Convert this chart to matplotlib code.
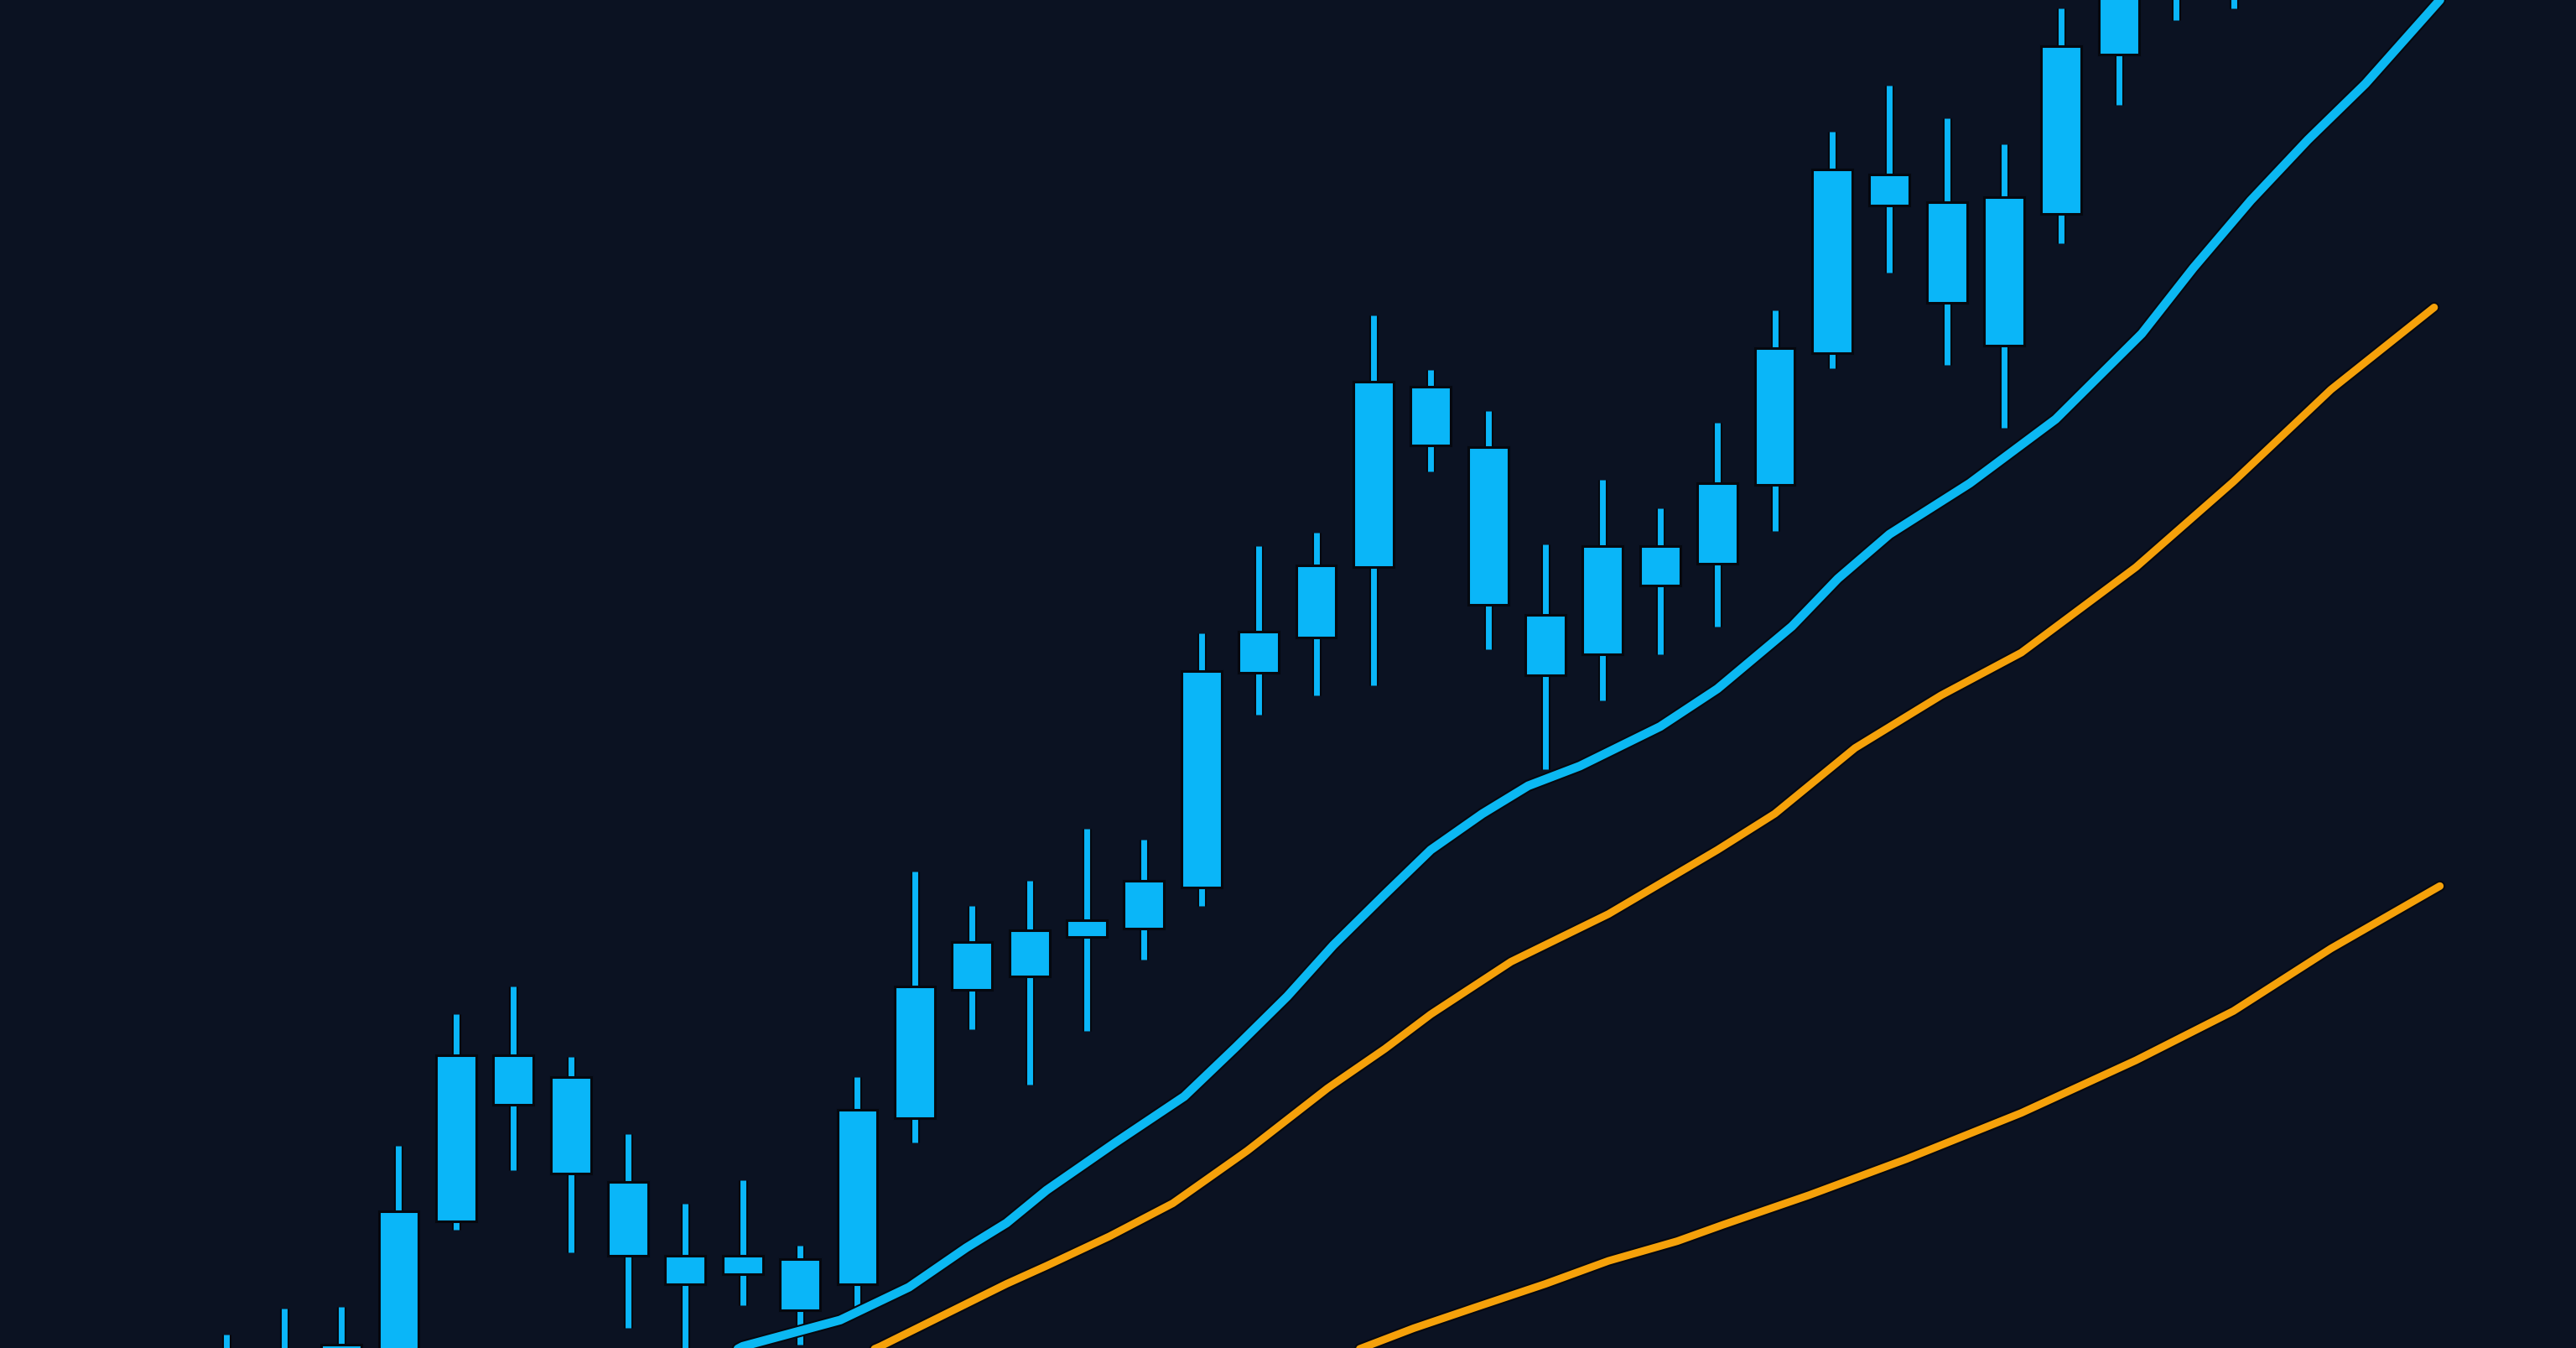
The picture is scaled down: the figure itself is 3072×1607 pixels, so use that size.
import numpy as np
import matplotlib.pyplot as plt
import matplotlib.patheffects as pe

# candle data, one entry per session (index 0..35)
high = [8, 24, 25, 123, 203, 220, 177, 130, 88, 102, 62, 165, 290, 269, 284, 316, 309, 435,
        488, 496, 628, 595, 570, 489, 528, 511, 563, 631, 740, 768, 748, 732, 815, 860, 880, 900]
open_ = [-40, -25, -20, -10, 77, 178, 165, 101, 56, 45, 54, 39, 140, 218, 254, 250, 255, 280,
         411, 432, 475, 585, 548, 446, 422, 464, 477, 525, 605, 714, 697, 610, 690, 787, 860, 870]
close = [-10, -5, 2, 83, 178, 148, 106, 56, 39, 56, 23, 145, 220, 247, 226, 260, 284, 412,
         436, 476, 588, 549, 452, 409, 488, 488, 526, 608, 717, 695, 636, 700, 792, 840, 830, 840]
low = [-60, -45, -35, -20, 72, 108, 58, 12, -10, 26, 2, 23, 125, 194, 160, 193, 236, 269,
       385, 397, 403, 533, 425, 352, 394, 422, 439, 497, 596, 654, 598, 560, 672, 756, 808, 815]

# moving averages (x in session index)
ma_fast_x = [8.5, 9.0, 10.7, 11.9, 12.9, 13.6, 14.3, 15.5, 16.7, 17.6, 18.5, 19.3, 20.2,
             21.0, 21.9, 22.7, 23.6, 25.0, 26.0, 27.3, 28.1, 29.0, 30.4, 31.9, 33.4,
             34.3, 35.3, 36.3, 37.3, 38.6]
ma_fast = [-8, 1, 17, 37, 61, 76, 96, 125, 153, 183, 214, 245, 276, 303, 325, 342,
           354, 378, 401, 439, 468, 495, 526, 565, 617, 657, 698, 735, 769, 820]
ma_mid_x = [11.0, 11.4, 12.5, 13.6, 14.3, 15.4, 16.5, 17.8, 19.2, 20.2, 21.0, 22.4, 24.1,
            26.0, 27.0, 28.4, 29.9, 31.3, 33.3, 35.0, 36.7, 38.5]
ma_mid = [-5, 1, 20, 39, 50, 68, 88, 120, 158, 182, 203, 235, 264, 303, 325, 365, 397,
          423, 475, 527, 583, 633]
ma_slow_x = [19.5, 19.8, 20.7, 21.8, 23.0, 24.1, 25.3, 26.1, 27.6, 29.3, 31.3, 33.3,
             35.0, 36.7, 38.6]
ma_slow = [-4, 0, 12, 25, 39, 53, 65, 75, 93, 115, 143, 175, 205, 243, 281]

bg = "#0b1222"
candle_col = "#0ab6f8"
blue = "#0bb8f2"
orange = "#f5a10a"
outline = "#05080f"

fig = plt.figure(figsize=(30.72, 16.07), dpi=100, facecolor=bg)
ax = fig.add_axes([0, 0, 1, 1])
ax.set_facecolor(bg)

x = np.arange(len(high))
o = np.array(open_)
c = np.array(close)
bottom = np.minimum(o, c)
height = np.abs(c - o)

wicks = ax.vlines(x, low, high, color=candle_col, linewidth=5, zorder=2)
wicks.set_path_effects([pe.Stroke(linewidth=8, foreground=outline), pe.Normal()])
ax.bar(x, height, bottom=bottom, width=0.7, color=candle_col,
       edgecolor=outline, linewidth=2.2, zorder=3)

stroke = lambda w: [pe.Stroke(linewidth=w + 3, foreground=outline), pe.Normal()]
ax.plot(ma_slow_x, ma_slow, color=orange, lw=6.5, solid_capstyle="round",
        solid_joinstyle="round", path_effects=stroke(6.5), zorder=4)
ax.plot(ma_mid_x, ma_mid, color=orange, lw=6.5, solid_capstyle="round",
        solid_joinstyle="round", path_effects=stroke(6.5), zorder=4)
ax.plot(ma_fast_x, ma_fast, color=blue, lw=7.5, solid_capstyle="round",
        solid_joinstyle="round", path_effects=stroke(7.5), zorder=5)

ax.set_xlim(-138 / 34.9, (1568 - 138) / 34.9)
ax.set_ylim(0, 820)
ax.axis("off")

fig.savefig("out.png", dpi=100, facecolor=bg)
